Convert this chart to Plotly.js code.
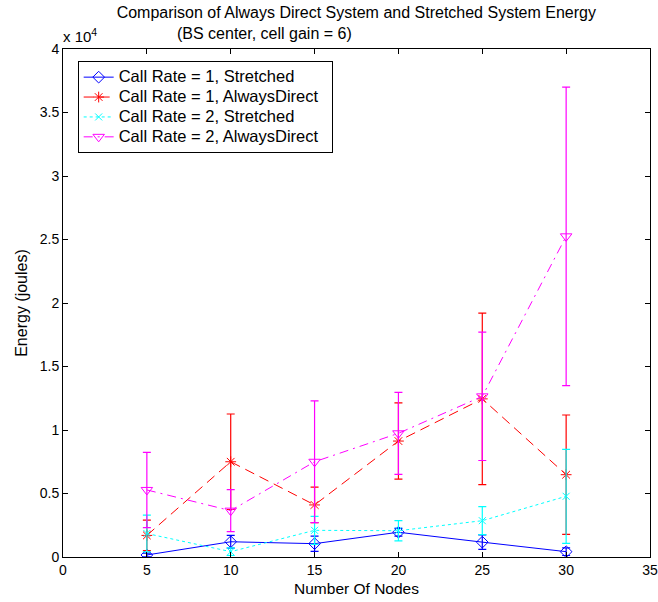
<!DOCTYPE html>
<html>
<head>
<meta charset="utf-8">
<script src="https://cdn.plot.ly/plotly-3.0.1.min.js"></script>
<style>html,body{margin:0;padding:0;background:#fff;}#chart{width:658px;height:602px;}</style>
</head>
<body>
<div id="chart"></div>
<script>
// Data (energy in joules)
const nodes = [5, 10, 15, 20, 25, 30];
const cr1Stretched = [160, 1200, 1050, 1950, 1170, 420];
const cr1StretchedErr = [150, 500, 600, 300, 570, 300];
const cr1Direct = [1700, 7500, 4100, 9130, 12450, 6480];
const cr1DirectErr = [1200, 3760, 1400, 3000, 6750, 4700];
const cr2Stretched = [1850, 420, 2100, 2070, 2860, 4780];
const cr2StretchedErr = [1450, 300, 1100, 800, 1100, 3700];
const cr2Direct = [5280, 3650, 7500, 9740, 12650, 25250];
const cr2DirectErr = [2960, 1650, 4800, 3230, 5050, 11750];
const seriesNames = ['Call Rate = 1, Stretched', 'Call Rate = 1, AlwaysDirect', 'Call Rate = 2, Stretched', 'Call Rate = 2, AlwaysDirect'];
const yTickVals = [0, 5000, 10000, 15000, 20000, 25000, 30000, 35000, 40000];
const yTickText = ['0', '0.5', '1', '1.5', '2', '2.5', '3', '3.5', '4'];
const xTickVals = [0, 5, 10, 15, 20, 25, 30, 35];

const FONT = 'Liberation Sans, Arial, sans-serif';

function trace(y, err, name, color, dash, symbol, msize) {
  return {
    x: nodes, y: y, name: name, type: 'scatter', mode: 'lines+markers',
    line: {color: color, width: 1, dash: dash},
    marker: {symbol: symbol, size: msize, color: color, line: {color: color, width: 1}},
    error_y: {type: 'data', array: err, visible: true, color: color, thickness: 1.2, width: 4}
  };
}

const data = [
  trace(cr1Stretched, cr1StretchedErr, seriesNames[0], '#0000ff', 'solid', 'diamond-open', 9),
  trace(cr1Direct, cr1DirectErr, seriesNames[1], '#ff0000', '10px,6px', 'asterisk-open', 9),
  trace(cr2Stretched, cr2StretchedErr, seriesNames[2], '#00ffff', '3px,3px', 'x-thin-open', 7),
  trace(cr2Direct, cr2DirectErr, seriesNames[3], '#ff00ff', '9px,5px,2px,5px', 'triangle-down-open', 10)
];

const axisCommon = {
  showline: true, linecolor: '#000', linewidth: 1, mirror: 'ticks',
  ticks: 'inside', ticklen: 5, tickcolor: '#000', showgrid: false, zeroline: false,
  tickfont: {family: FONT, size: 14, color: '#000'}
};

const layout = {
  width: 658, height: 602,
  margin: {l: 63, r: 8, t: 49, b: 45},
  paper_bgcolor: '#fff', plot_bgcolor: '#fff',
  font: {family: FONT, size: 14, color: '#000'},
  title: {text: 'Comparison of Always Direct System and Stretched System Energy',
          font: {family: FONT, size: 16, color: '#000'},
          x: 0.5415, xanchor: 'center', y: 0.989, yanchor: 'top'},
  xaxis: Object.assign({}, axisCommon, {
    range: [0, 35], tickvals: xTickVals,
    title: {text: 'Number Of Nodes', font: {family: FONT, size: 15.5, color: '#000'}, standoff: 6}
  }),
  yaxis: Object.assign({}, axisCommon, {
    range: [0, 40000], tickvals: yTickVals, ticktext: yTickText,
    title: {text: 'Energy (joules)', font: {family: FONT, size: 16, color: '#000'}, standoff: 8}
  }),
  showlegend: true,
  legend: {
    x: 0.025, y: 0.976, xanchor: 'left', yanchor: 'top',
    bgcolor: '#fff', bordercolor: '#000', borderwidth: 1,
    font: {family: FONT, size: 13, color: '#000'},
    tracegroupgap: 0, itemwidth: 30
  },
  annotations: [
    {text: '(BS center, cell gain = 6)', xref: 'paper', yref: 'paper',
     x: (264 - 63) / 587, y: 1 + (49 - 33) / 508, xanchor: 'center', yanchor: 'middle',
     showarrow: false, font: {family: FONT, size: 16, color: '#000'}},
    {text: 'x 10<sup>4</sup>', xref: 'paper', yref: 'paper',
     x: -0.003, y: 1 + (49 - 35) / 508, xanchor: 'left', yanchor: 'middle',
     showarrow: false, font: {family: FONT, size: 15, color: '#000'}}
  ]
};

Plotly.newPlot('chart', data, layout, {displayModeBar: false, staticPlot: true}).then(function (gd) {
  // Larger legend text with compact row spacing, as in the reference
  gd.querySelectorAll('.legend .legendtext').forEach(function (t) {
    t.style.fontSize = '16.5px';
  });
  var bg = gd.querySelector('.legend rect.bg');
  if (bg) bg.setAttribute('width', 254);
  gd.querySelectorAll('clipPath[id^="legend"] rect').forEach(function (r) {
    r.setAttribute('width', 260);
  });
});
</script>
</body>
</html>
